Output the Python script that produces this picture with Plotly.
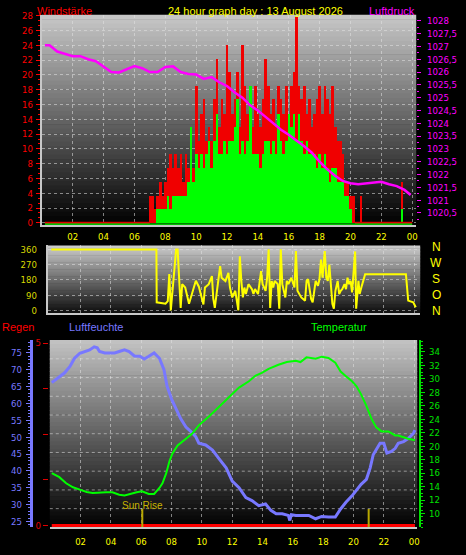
import plotly.graph_objects as go

W, H = 466, 555
FONT = "Liberation Sans, Arial, sans-serif"
TICKFONT = "Liberation Sans Narrow, Arial Narrow, DejaVu Sans Condensed, Liberation Sans, sans-serif"

# ---------------- data ----------------
hour_ticks = [2, 4, 6, 8, 10, 12, 14, 16, 18, 20, 22, 24]
hour_labels = ["02", "04", "06", "08", "10", "12", "14", "16", "18", "20", "22", "00"]

# Windstärke (km/h), 10-minute samples starting 07:00
wind_start = 7.0
wind_step = 1 / 6
gust_kmh = [
    3.7, 3.7, 1.9, 3.7, 5.6, 3.7,
    5.6, 7.4, 9.3, 7.4, 9.3, 7.4,
    9.3, 5.6, 9.3, 7.4, 13.0, 7.4,
    18.5, 11.1, 14.8, 16.7, 11.1, 13.0,
    11.1, 16.7, 22.2, 13.0, 16.7, 14.8,
    24.1, 20.4, 14.8, 16.7, 20.4, 13.0,
    24.1, 18.5, 14.8, 18.5, 13.0, 18.5,
    14.8, 13.0, 16.7, 22.2, 18.5, 14.8,
    16.7, 13.0, 18.5, 16.7, 14.8, 18.5,
    14.8, 18.5, 20.4, 27.8, 18.5, 16.7,
    18.5, 14.8, 16.7, 13.0, 14.8, 16.7,
    18.5, 14.8, 18.5, 16.7, 14.8, 18.5,
    13.0, 11.1, 11.1, 9.3, 5.6, 5.6,
    3.7, 3.7,
]
wind_kmh = [
    0, 0, 0, 1.9, 1.9, 1.9,
    1.9, 3.7, 1.9, 3.7, 3.7, 3.7,
    3.7, 3.7, 3.7, 5.6, 13.0, 5.6,
    9.3, 7.4, 9.3, 7.4, 9.3, 11.1,
    7.4, 11.1, 14.8, 9.3, 9.3, 11.1,
    9.3, 11.1, 11.1, 13.0, 16.7, 9.3,
    11.1, 9.3, 11.1, 18.5, 9.3, 9.3,
    9.3, 7.4, 9.3, 11.1, 11.1, 9.3,
    11.1, 9.3, 14.8, 11.1, 9.3, 11.1,
    14.8, 13.0, 14.8, 11.1, 14.8, 11.1,
    9.3, 11.1, 9.3, 9.3, 9.3, 7.4,
    9.3, 7.4, 9.3, 7.4, 5.6, 7.4,
    7.4, 5.6, 5.6, 5.6, 3.7, 3.7,
    1.9, 0,
]
late_t = [20.7, 23.35]
late_gust = [3.7, 5.6]
late_wind = [0, 1.9]

# Luftdruck (hPa)
press_t = [0.2, 0.5, 1.0, 1.5, 2.0, 2.5, 3.0, 3.5, 4.0, 4.5, 5.0, 5.5, 6.0, 6.5,
           7.0, 7.5, 8.0, 8.5, 9.0, 9.5, 10.0, 10.5, 11.0, 11.5, 12.0, 12.5, 13.0,
           13.5, 14.0, 14.5, 15.0, 15.5, 16.0, 16.5, 17.0, 17.5, 18.0, 18.5, 19.0,
           19.5, 20.0, 20.5, 21.0, 21.5, 22.0, 22.5, 23.0, 23.5, 23.9]
press_hpa = [1027.04, 1027.04, 1026.8, 1026.7, 1026.62, 1026.62, 1026.5, 1026.42,
             1026.2, 1026.0, 1025.98, 1026.1, 1026.23, 1026.15, 1026.0, 1026.0,
             1026.2, 1026.22, 1026.0, 1025.92, 1025.9, 1025.73, 1025.8, 1025.6,
             1025.45, 1025.2, 1025.0, 1024.7, 1024.5, 1024.25, 1024.0, 1023.75,
             1023.55, 1023.33, 1023.1, 1022.85, 1022.5, 1022.2, 1021.95, 1021.75,
             1021.66, 1021.62, 1021.66, 1021.7, 1021.72, 1021.62, 1021.55, 1021.4,
             1021.2]
press_ticks = [1020.5, 1021, 1021.5, 1022, 1022.5, 1023, 1023.5, 1024, 1024.5,
               1025, 1025.5, 1026, 1026.5, 1027, 1027.5, 1028]
press_labels = ["1020,5", "1021", "1021,5", "1022", "1022,5", "1023", "1023,5",
                "1024", "1024,5", "1025", "1025,5", "1026", "1026,5", "1027",
                "1027,5", "1028"]
wind_ticks = [0, 2, 4, 6, 8, 10, 12, 14, 16, 18, 20, 22, 24, 26, 28]

# Windrichtung (degrees)
wd_t = [0.07, 7.0, 7.02, 7.3, 7.6, 7.75, 7.85, 7.95, 8.3, 8.4, 8.5, 8.6, 8.7, 8.9,
        9.15, 9.35, 9.6, 9.8, 10.0, 10.1, 10.2, 10.45, 10.66, 10.75, 10.85, 11.1,
        11.2, 11.3, 11.55, 11.75, 11.85, 12.0, 12.2, 12.4, 12.5, 12.6, 12.7, 12.8,
        12.9, 13.07, 13.3, 13.4, 13.5, 13.7, 13.9, 14.0, 14.2, 14.3, 14.4, 14.5,
        14.6, 14.7, 14.8, 15.0, 15.1, 15.2, 15.3, 15.5, 15.6, 15.7, 15.9, 16.1,
        16.2, 16.3, 16.55, 16.8, 16.9, 17.0, 17.1, 17.2, 17.3, 17.4, 17.5, 17.65,
        17.75, 17.85, 17.95, 18.1, 18.2, 18.3, 18.4, 18.5, 18.6, 18.7, 18.8, 18.95,
        19.05, 19.15, 19.25, 19.4, 19.5, 19.6, 19.7, 19.8, 19.9, 20.1, 20.17,
        20.32, 20.4, 20.54, 20.76, 23.45, 23.6, 23.93, 24.1]
wd_deg = [360, 360, 48, 45, 40, 55, 215, 0, 360, 360, 174, 15, 155, 135,
          40, 100, 175, 140, 58, 35, 135, 155, 203, 70, 15, 174,
          261, 193, 174, 222, 135, 77, 116, 0, 319, 174, 77, 135,
          97, 155, 126, 97, 126, 97, 232, 155, 116, 193, 360, 15,
          174, 135, 174, 155, 10, 360, 155, 77, 174, 155, 193, 135,
          350, 116, 77, 58, 174, 184, 116, 68, 48, 116, 174, 145,
          184, 300, 193, 350, 193, 174, 271, 155, 39, 10, 116, 174,
          97, 116, 126, 155, 126, 193, 155, 174, 106, 348, 10,
          174, 97, 145, 213, 213, 58, 48, 19]
wd_ticks = [0, 90, 180, 270, 360]
compass = ["N", "W", "S", "O", "N"]

# Luftfeuchte (%)
hum_t = [0.1, 0.6, 0.95, 1.3, 1.6, 1.95, 2.3, 2.6, 2.9, 3.1, 3.25, 3.6, 3.9, 4.25,
         4.55, 4.9, 5.2, 5.55, 5.9, 6.2, 6.5, 6.85, 7.2, 7.5, 7.7, 8.0, 8.3, 8.6,
         8.95, 9.3, 9.6, 9.8, 10.25, 10.7, 11.1, 11.6, 12.0, 12.45, 12.9, 13.3,
         13.75, 14.2, 14.55, 14.9, 15.3, 15.7, 15.8, 15.9, 16.2, 16.6, 17.05, 17.5,
         17.9, 18.35, 18.8, 19.15, 19.5, 19.9, 20.3, 20.5, 20.85, 21.1, 21.3, 21.5,
         21.75, 22.0, 22.2, 22.5, 22.75, 22.95, 23.3, 23.6, 23.95, 24.05]
hum_pct = [66.2, 67.9, 69.1, 71, 73.4, 74.9, 75.4, 75.9, 76.8, 76.5, 75.4, 75, 75, 75,
           75.4, 75.9, 75.4, 74.1, 74, 73.2, 74, 75, 73.4, 70, 65.2, 61.3, 58.4, 55.5,
           53, 51.6, 50.1, 48.2, 47.7, 46.2, 43.8, 40.9, 37, 35, 32.1, 31.2,
           29.7, 30.2, 28.3, 27.3, 27.3, 26.8, 25.3, 27, 26.8, 26.8, 26.8, 25.8,
           26.5, 26.3, 26.3, 28.7, 30.7, 32.6, 35, 36, 37.5, 40.9, 44.8, 46.2,
           48.2, 48.2, 45.3, 45.8, 46.7, 48.2, 48.7, 49.6, 51.1, 52.1]

# Temperatur (°C)
temp_t = [0.1, 0.6, 1.05, 1.5, 1.95, 2.4, 2.8, 3.25, 3.7, 4.1, 4.55, 4.9, 5.2, 5.7,
          6.05, 6.5, 6.85, 7.2, 7.4, 7.65, 7.85, 8.05, 8.4, 8.7, 9.05, 9.35, 9.6,
          9.8, 10.5, 11.1, 11.8, 12.45, 13.1, 13.55, 13.95, 14.4, 15.05, 15.6, 16.2,
          16.5, 16.9, 17.5, 17.9, 18.35, 18.8, 19.15, 19.5, 19.9, 20.2, 20.5, 20.85,
          21.2, 21.5, 21.85, 22.3, 22.75, 22.95, 23.6, 24.05]
temp_c = [16.0, 15.4, 14.5, 13.9, 13.55, 13.2, 13.05, 13.15, 13.15, 13.15, 12.8, 12.7,
          12.9, 13.15, 13.3, 12.9, 12.9, 13.8, 14.5, 16.0, 17.7, 18.9, 20.1, 20.7,
          21.3, 21.85, 22.6, 23.1, 24.5, 25.8, 27.3, 28.7, 29.65, 30.5, 30.9, 31.5,
          32.1, 32.5, 32.7, 32.5, 33.2, 33.0, 33.3, 33.1, 32.4, 31.1, 30.4, 29.65,
          28.9, 27.7, 26.0, 24.0, 22.8, 22.2, 22.2, 21.6, 21.6, 21.1, 20.9]
temp_ticks = [10, 12, 14, 16, 18, 20, 22, 24, 26, 28, 30, 32, 34]
hum_ticks = [25, 30, 35, 40, 45, 50, 55, 60, 65, 70, 75]

# Regen (mm)
rain_t = [0.1, 24.05]
rain_mm = [0, 0]
rain_ticks = [0, 1.25, 2.5, 3.75, 5]
rain_labels = ["0", "", "", "", "5"]

sun_t = [6.07, 21.0]
sun_label = "Sun Rise"
title_text = "24 hour graph day : 13 August 2026"

# ---------------- helpers ----------------
def px(x):
    return x / W


def py(y):
    return 1 - y / H


wind_t = [wind_start + i * wind_step for i in range(len(gust_kmh))]

top_x = [px(42), px(418)]
top_y = [py(223), py(10)]
mid_x = [px(48), px(422)]
mid_y = [py(312), py(244)]
bot_x = [px(50), px(419)]
bot_y = [py(530), py(340)]

shapes = []


def gradient(x0, x1, y0, y1, c0, c1, n=48):
    h = (y1 - y0) / n
    for i in range(n):
        f = (i + 0.5) / n
        c = [round(c0[k] + (c1[k] - c0[k]) * f) for k in range(3)]
        shapes.append(dict(type="rect", xref="paper", yref="paper",
                           x0=px(x0), x1=px(x1), y0=py(y0 + i * h), y1=py(y0 + (i + 1) * h + 0.6),
                           fillcolor=f"rgb({c[0]},{c[1]},{c[2]})", line=dict(width=0),
                           layer="below"))


gradient(42, 418, 10, 223, (200, 200, 200), (0, 0, 0))
gradient(48, 422, 244, 312, (205, 205, 205), (15, 15, 15))
gradient(50, 419, 340, 530, (195, 195, 195), (0, 0, 0))

# horizontal dotted grid in bottom panel (10 divisions)
for k in range(1, 10):
    y = 340 + k * 19
    shapes.append(dict(type="line", xref="paper", yref="paper", x0=px(50), x1=px(419),
                       y0=py(y), y1=py(y), line=dict(color="rgba(225,225,225,0.55)", width=1, dash="dot"),
                       layer="below"))

fig = go.Figure()

# ---- top panel ----
fig.add_trace(go.Bar(x=wind_t, y=gust_kmh, width=wind_step, marker=dict(color="#f00000", line=dict(width=0)),
                     xaxis="x", yaxis="y", showlegend=False))
fig.add_trace(go.Bar(x=wind_t, y=wind_kmh, width=wind_step, marker=dict(color="#00ff00", line=dict(width=0)),
                     xaxis="x", yaxis="y", showlegend=False))
fig.add_trace(go.Bar(x=late_t, y=late_gust, width=0.07, marker=dict(color="#f00000", line=dict(width=0)),
                     xaxis="x", yaxis="y", showlegend=False))
fig.add_trace(go.Bar(x=late_t, y=late_wind, width=0.07, marker=dict(color="#00ff00", line=dict(width=0)),
                     xaxis="x", yaxis="y", showlegend=False))
fig.add_trace(go.Scatter(x=[0.2, 7.0, None, 20.3, 24.0], y=[0, 0, None, 0, 0], mode="lines",
                         line=dict(color="#e00000", width=2), xaxis="x", yaxis="y", showlegend=False))
fig.add_trace(go.Scatter(x=[0.2, 24.0], y=[-0.22, -0.22], mode="lines",
                         line=dict(color="#00ff00", width=2), xaxis="x", yaxis="y", showlegend=False))
fig.add_trace(go.Scatter(x=press_t, y=press_hpa, mode="lines", line=dict(color="#ff00ff", width=2.5),
                         xaxis="x", yaxis="y2", showlegend=False))

# ---- middle panel ----
fig.add_trace(go.Scatter(x=wd_t, y=wd_deg, mode="lines", line=dict(color="#ffff00", width=2),
                         xaxis="x2", yaxis="y3", showlegend=False))

# ---- bottom panel ----
fig.add_trace(go.Scatter(x=hum_t, y=hum_pct, mode="lines", line=dict(color="#7878ff", width=3),
                         xaxis="x3", yaxis="y4", showlegend=False))
fig.add_trace(go.Scatter(x=rain_t, y=rain_mm, mode="lines", line=dict(color="#ff0000", width=3),
                         xaxis="x3", yaxis="y5", showlegend=False))
for t in sun_t:
    fig.add_trace(go.Scatter(x=[t, t], y=[-0.05, 0.45], mode="lines", line=dict(color="#b8a800", width=2),
                             xaxis="x3", yaxis="y5", showlegend=False))
fig.add_trace(go.Scatter(x=temp_t, y=temp_c, mode="lines", line=dict(color="#00ff00", width=2),
                         xaxis="x3", yaxis="y6", showlegend=False))

grid = dict(showgrid=True, gridcolor="rgba(225,225,225,0.55)", griddash="dot", gridwidth=1)
tickfont = lambda c: dict(family=TICKFONT, size=9.5, color=c)

fig.update_layout(
    width=W, height=H, margin=dict(l=0, r=0, t=0, b=0),
    paper_bgcolor="black", plot_bgcolor="rgba(0,0,0,0)",
    barmode="overlay", bargap=0, showlegend=False,
    shapes=shapes,
    xaxis=dict(domain=top_x, anchor="y", range=[0, 24.26], tickvals=hour_ticks, ticktext=hour_labels,
               tickfont=tickfont("#ffff00"), ticks="", ticklabelstandoff=2, showline=True,
               linecolor="#c8c8c8", linewidth=2, zeroline=False, **grid),
    yaxis=dict(domain=top_y, anchor="x", range=[-0.27, 28.13], tickvals=wind_ticks,
               tickfont=tickfont("#ff0000"), ticks="outside", ticklen=4, tickcolor="#ff0000",
               ticklabelstandoff=1,
               minor=dict(dtick=2 / 3, ticklen=2, tickcolor="#ff0000", ticks="outside", showgrid=False),
               showline=True, linecolor="#c8c8c8", linewidth=2, zeroline=False, **grid),
    yaxis2=dict(overlaying="y", anchor="x", side="right", range=[1020.04, 1028.23],
                tickvals=press_ticks, ticktext=press_labels, tickfont=tickfont("#ff00ff"),
                ticks="outside", ticklen=4, tickcolor="#ff00ff", ticklabelstandoff=4,
                minor=dict(dtick=0.25, ticklen=2, tickcolor="#ff00ff", ticks="outside"),
                showgrid=False, zeroline=False, showline=False),
    xaxis2=dict(domain=mid_x, anchor="y3", range=[-0.16, 24.39], tickvals=hour_ticks,
                showticklabels=False, ticks="", showline=True, linecolor="#c8c8c8", linewidth=2,
                zeroline=False, **grid),
    yaxis3=dict(domain=mid_y, anchor="x2", range=[-12, 383], tickvals=wd_ticks,
                tickfont=tickfont("#d8d800"), ticks="outside", ticklen=7, tickcolor="rgba(0,0,0,0)",
                showline=True, linecolor="#c8c8c8", linewidth=2, zeroline=False, **grid),
    xaxis3=dict(domain=bot_x, anchor="y4", range=[-0.03, 24.2], tickvals=hour_ticks, ticktext=hour_labels,
                tickfont=tickfont("#ffff00"), ticks="", ticklabelstandoff=4, showline=True,
                linecolor="#c8c8c8", linewidth=2, zeroline=False, **grid),
    yaxis4=dict(domain=bot_y, anchor="free", position=px(31), range=[23.25, 78.8], tickvals=hum_ticks,
                tickfont=tickfont("#7878ff"), ticks="outside", ticklen=4, tickcolor="#7878ff",
                ticklabelstandoff=2,
                minor=dict(dtick=1, ticklen=2, tickcolor="#7878ff", ticks="outside", showgrid=False),
                showline=True, linecolor="#7878ff", linewidth=3, showgrid=False, zeroline=False),
    yaxis5=dict(overlaying="y4", anchor="free", position=px(48), range=[-0.054, 5.08],
                tickvals=rain_ticks, ticktext=rain_labels, tickfont=tickfont("#e00000"),
                ticks="outside", ticklen=5, tickcolor="#e00000", showline=False, showgrid=False,
                zeroline=False),
    yaxis6=dict(overlaying="y4", anchor="free", side="right", position=px(422), range=[7.95, 35.76],
                tickvals=temp_ticks, tickfont=tickfont("#00e000"), ticks="outside", ticklen=4,
                tickcolor="#00e000", ticklabelstandoff=2,
                minor=dict(dtick=0.5, ticklen=2, tickcolor="#00e000", ticks="outside"),
                showline=True, linecolor="#00e000", linewidth=2, showgrid=False, zeroline=False),
)

ann = []


def label(text, x, y, color, size=11, xanchor="center"):
    ann.append(dict(text=text, x=px(x), y=py(y), xref="paper", yref="paper", showarrow=False,
                    xanchor=xanchor, yanchor="middle", font=dict(family=FONT, size=size, color=color)))


label("Windstärke", 35, 6, "#ff0000", xanchor="left")
label(title_text, 257, 6, "#ffff00")
label("Luftdruck", 394, 6, "#ff00ff")
label("Regen", 0, 327, "#ff0000", xanchor="left")
label("Luftfeuchte", 67, 327, "#7878ff", xanchor="left")
label("Temperatur", 340, 327, "#00ff00")
for i, c in enumerate(compass):
    label(c, 438, 246 + i * 16.2, "#ffff00", size=12)
ann.append(dict(text=sun_label, x=sun_t[0], y=0.54, xref="x3", yref="y5", showarrow=False,
                xanchor="center", yanchor="middle", font=dict(family=FONT, size=10, color="#c8b400")))
fig.update_layout(annotations=ann)

fig.write_html("out.html", config={"displayModeBar": False},
               post_script="document.body.style.margin='0';document.body.style.overflow='hidden';")
